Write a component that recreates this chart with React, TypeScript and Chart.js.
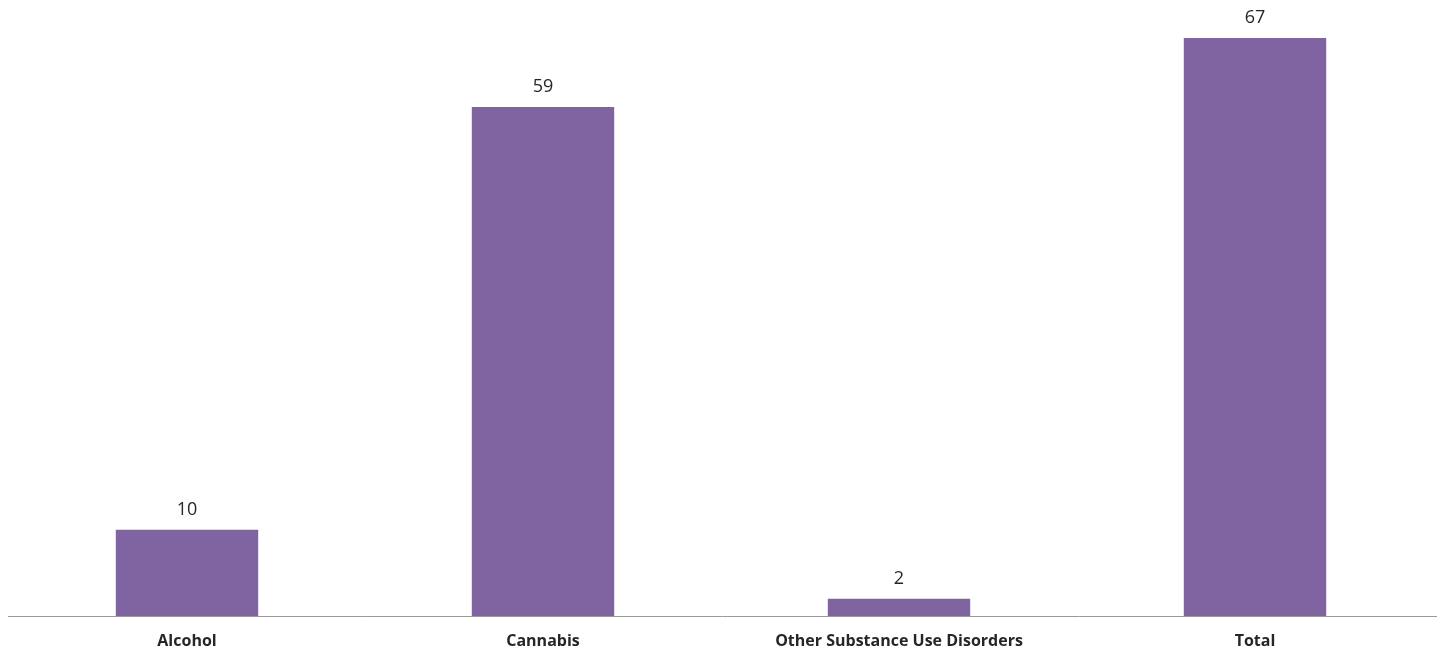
import React, { useEffect, useRef } from "react";
import { Chart, registerables } from "chart.js";

Chart.register(...registerables);

const categories = ["Alcohol", "Cannabis", "Other Substance Use Disorders", "Total"];
const values = [10, 59, 2, 67];

const BAR_COLOR = "#8064A2";
const FONT = "'Open Sans', 'Noto Sans', sans-serif";

const labelPlugin = {
  id: "barLabels",
  afterDatasetsDraw(chart: any) {
    const ctx = chart.ctx;
    const meta = chart.getDatasetMeta(0);
    ctx.save();
    ctx.font = `18px ${FONT}`;
    ctx.fillStyle = "#262626";
    ctx.textAlign = "center";
    ctx.textBaseline = "middle";
    meta.data.forEach((bar: any, i: number) => {
      ctx.fillText(String(values[i]), bar.x, bar.y - 20);
    });
    ctx.restore();
  },
};

const axisLinePlugin = {
  id: "axisLine",
  afterDraw(chart: any) {
    const ctx = chart.ctx;
    const y = Math.round(chart.chartArea.bottom) + 0.5;
    ctx.save();
    ctx.strokeStyle = "#9a9a9a";
    ctx.lineWidth = 1;
    ctx.beginPath();
    ctx.moveTo(8, y);
    ctx.lineTo(chart.width, y);
    ctx.stroke();
    ctx.restore();
  },
};

export default function App() {
  const ref = useRef<HTMLCanvasElement>(null);
  useEffect(() => {
    if (!ref.current) return;
    const chart = new Chart(ref.current, {
      type: "bar",
      data: {
        labels: categories,
        datasets: [
          {
            data: values,
            backgroundColor: BAR_COLOR,
            categoryPercentage: 1,
            barPercentage: 0.4,
          },
        ],
      },
      options: {
        animation: false,
        responsive: false,
        maintainAspectRatio: false,
        layout: { padding: { left: 9, right: 4, top: 0, bottom: 0 } },
        plugins: { legend: { display: false }, tooltip: { enabled: false } },
        scales: {
          x: {
            grid: { display: false, drawTicks: false },
            border: { display: false },
            ticks: {
              padding: 16,
              color: "#262626",
              font: { family: FONT, size: 16, weight: "bold" },
              maxRotation: 0,
              autoSkip: false,
            },
            afterFit: (s: any) => {
              s.height = 38;
            },
          },
          y: {
            display: false,
            min: 0,
            max: 71.4,
          },
        },
      },
      plugins: [labelPlugin, axisLinePlugin],
    });
    return () => chart.destroy();
  }, []);
  return (
    <div style={{ position: "absolute", left: 0, top: 0, width: 1437, height: 654 }}>
      <canvas ref={ref} width={1437} height={654} style={{ display: "block" }} />
    </div>
  );
}
